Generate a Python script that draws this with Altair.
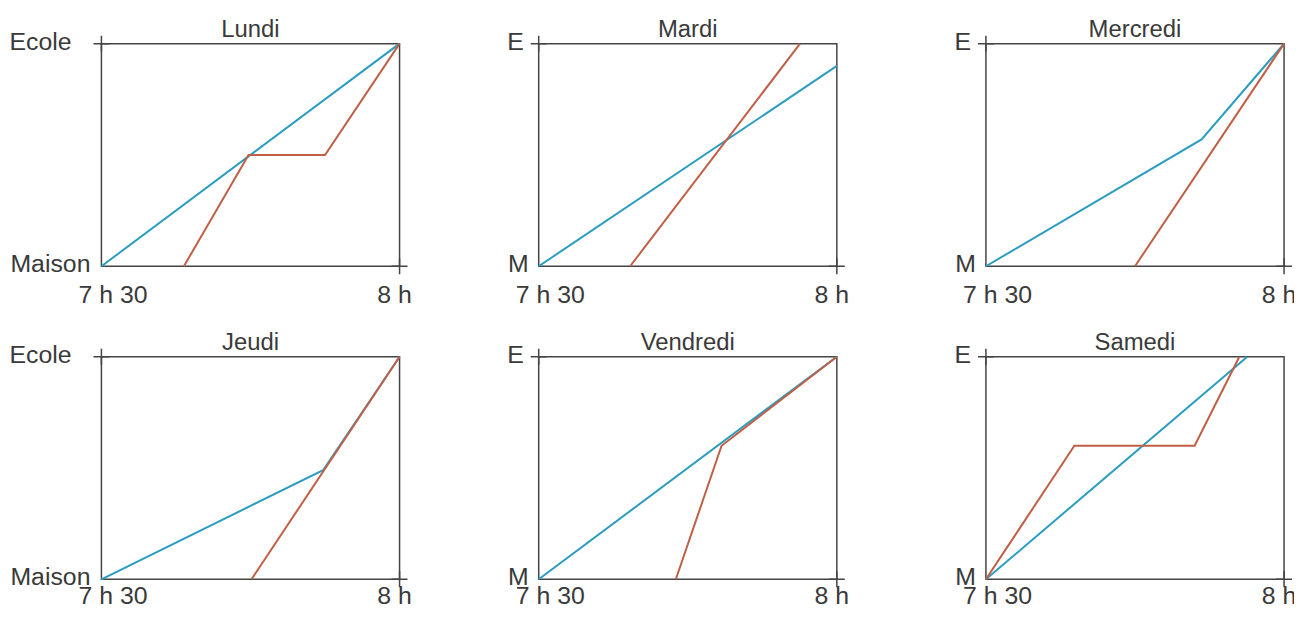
import altair as alt
import pandas as pd

# ---- data (time in minutes after 7 h 30, position 0 = home, 1 = school)
jours = ["Lundi", "Mardi", "Mercredi", "Jeudi", "Vendredi", "Samedi"]
lieu_haut = ["Ecole", "E", "E", "Ecole", "E", "E"]
lieu_bas = ["Maison", "M", "M", "Maison", "M", "M"]
heure_debut = "7 h 30"
heure_fin = "8 h"
T_DEBUT, T_FIN = 0, 30
P_MAISON, P_ECOLE = 0, 1

lundi_bleu_t = [0, 30]
lundi_bleu_p = [0, 1]
lundi_rouge_t = [8.3, 14.8, 22.5, 30]
lundi_rouge_p = [0, 0.5, 0.5, 1]

mardi_bleu_t = [0, 30]
mardi_bleu_p = [0, 0.9]
mardi_rouge_t = [9.2, 26.3]
mardi_rouge_p = [0, 1]

mercredi_bleu_t = [0, 21.7, 30]
mercredi_bleu_p = [0, 0.57, 1]
mercredi_rouge_t = [15, 30]
mercredi_rouge_p = [0, 1]

jeudi_bleu_t = [0, 22.3, 30]
jeudi_bleu_p = [0, 0.49, 1]
jeudi_rouge_t = [15.1, 30]
jeudi_rouge_p = [0, 1]

vendredi_bleu_t = [0, 30]
vendredi_bleu_p = [0, 1]
vendredi_rouge_t = [13.8, 18.4, 30]
vendredi_rouge_p = [0, 0.6, 1]

samedi_bleu_t = [0, 26.3]
samedi_bleu_p = [0, 1]
samedi_rouge_t = [0, 8.9, 21, 25.5]
samedi_rouge_p = [0, 0.6, 0.6, 1]

series = {
    "Lundi": [(lundi_bleu_t, lundi_bleu_p), (lundi_rouge_t, lundi_rouge_p)],
    "Mardi": [(mardi_bleu_t, mardi_bleu_p), (mardi_rouge_t, mardi_rouge_p)],
    "Mercredi": [(mercredi_bleu_t, mercredi_bleu_p), (mercredi_rouge_t, mercredi_rouge_p)],
    "Jeudi": [(jeudi_bleu_t, jeudi_bleu_p), (jeudi_rouge_t, jeudi_rouge_p)],
    "Vendredi": [(vendredi_bleu_t, vendredi_bleu_p), (vendredi_rouge_t, vendredi_rouge_p)],
    "Samedi": [(samedi_bleu_t, samedi_bleu_p), (samedi_rouge_t, samedi_rouge_p)],
}

rows = []
for jour, traj in series.items():
    for nom, (ts, ps) in zip(["bleu", "rouge"], traj):
        for k, (t, p) in enumerate(zip(ts, ps)):
            rows.append({"jour": jour, "trajet": nom, "t": t, "p": p, "ordre": k})
df = pd.DataFrame(rows)

BLEU = "#2a9cc0"
ROUGE = "#bf5f45"
GRIS = "#444444"
TEXTE = "#3a3a3a"
FONT = "Liberation Sans"

X = alt.X("t:Q", scale=alt.Scale(domain=[T_DEBUT, T_FIN], nice=False, zero=False), axis=None)
Y = alt.Y("p:Q", scale=alt.Scale(domain=[P_MAISON, P_ECOLE], nice=False, zero=False), axis=None)


def texte(t, p, txt, **kw):
    return alt.Chart(pd.DataFrame({"t": [t], "p": [p], "txt": [txt]})).mark_text(
        font=FONT, color=TEXTE, **kw
    ).encode(x=X, y=Y, text="txt:N")


def panel(i, dy_heures):
    jour = jours[i]
    long_label = len(lieu_haut[i]) > 1
    d = df[df.jour == jour]
    lines = alt.Chart(d).mark_line(strokeWidth=2).encode(
        x=X, y=Y,
        color=alt.Color("trajet:N", scale=alt.Scale(domain=["rouge", "bleu"], range=[ROUGE, BLEU]), legend=None),
        order="ordre:Q",
    )
    croix = alt.Chart(pd.DataFrame({"t": [T_DEBUT, T_FIN], "p": [P_ECOLE, P_MAISON]})).mark_point(
        shape="M-1,0L1,0M0,-1L0,1", filled=False, size=256, stroke=GRIS, strokeWidth=1.5, opacity=1
    ).encode(x=X, y=Y)
    titre = texte((T_DEBUT + T_FIN) / 2, P_ECOLE, jour, align="center", baseline="alphabetic",
                  dy=-7, fontSize=24)
    haut = texte(T_DEBUT, P_ECOLE, lieu_haut[i], align="right", baseline="middle",
                 dx=-30 if long_label else -15, dy=-2, fontSize=25)
    bas = texte(T_DEBUT, P_MAISON, lieu_bas[i], align="right", baseline="middle",
                dx=-11 if long_label else -10, dy=-2, fontSize=25)
    debut = texte(T_DEBUT, P_MAISON, heure_debut, align="left", baseline="alphabetic",
                  dx=-23, dy=dy_heures, fontSize=25)
    fin = texte(T_FIN, P_MAISON, heure_fin, align="center", baseline="alphabetic",
                dx=-5, dy=dy_heures, fontSize=25)
    return alt.layer(lines, croix, titre, haut, bas, debut, fin).properties(width=300, height=224)


def colonne(a, b):
    return alt.vconcat(panel(a, 37), panel(b, 25), spacing=91, bounds="flush")


paire = alt.hconcat(colonne(0, 3), colonne(1, 4), spacing=93, bounds="full")
chart = alt.hconcat(paire, colonne(2, 5), spacing=103, bounds="full").properties(
    autosize=alt.AutoSizeParams(type="none"),
    padding={"left": 94, "top": 34, "right": 1200, "bottom": 563},
).configure_view(stroke=GRIS, strokeWidth=1.5)

chart.save("out.html", embed_options={"renderer": "svg", "actions": False})
